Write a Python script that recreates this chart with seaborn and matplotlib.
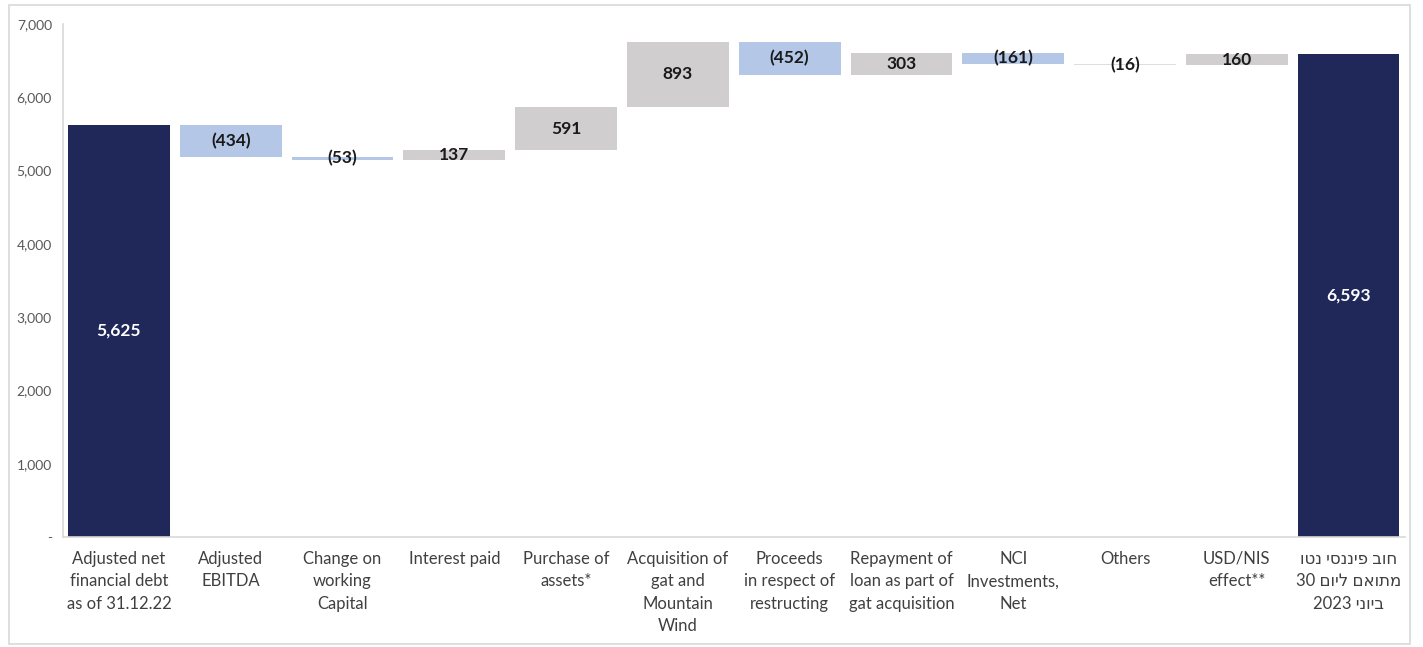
import matplotlib
matplotlib.use("Agg")
import matplotlib.pyplot as plt
import seaborn as sns
import numpy as np
import pandas as pd
from matplotlib.patches import Rectangle

# ---- data ----
categories = [
    "Adjusted net\nfinancial debt\nas of 31.12.22",
    "Adjusted\nEBITDA",
    "Change on\nworking\nCapital",
    "Interest paid",
    "Purchase of\nassets*",
    "Acquisition of\ngat and\nMountain\nWind",
    "Proceeds\nin respect of\nrestructing",
    "Repayment of\nloan as part of\ngat acquisition",
    "NCI\nInvestments,\nNet",
    "Others",
    "USD/NIS\neffect**",
    # Hebrew: "חוב פיננסי נטו / מתואם ליום 30 / ביוני 2023" (written in visual order)
    "וטנ יסנניפ בוח\n30 םויל םאותמ\n2023 ינויב",
]
start_value = 5625
changes = [-434, -53, 137, 591, 893, -452, 303, -161, -16, 160]
end_value = 6593
value_labels = ["5,625", "(434)", "(53)", "137", "591", "893", "(452)",
                "303", "(161)", "(16)", "160", "6,593"]
y_ticks = [0, 1000, 2000, 3000, 4000, 5000, 6000, 7000]
y_tick_labels = ["-", "1,000", "2,000", "3,000", "4,000", "5,000", "6,000", "7,000"]

# ---- derived waterfall geometry ----
bottoms, heights = [0], [start_value]
level = start_value
for c in changes:
    new = level + c
    bottoms.append(min(level, new))
    heights.append(abs(c))
    level = new
bottoms.append(0)
heights.append(end_value)

NAVY = "#1F2859"
BLUE = "#B4C7E7"
GREY = "#D0CECE"
PALE = "#DEDEDE"
colors = [NAVY]
for i, c in enumerate(changes):
    if i == 8:
        colors.append(PALE)
    else:
        colors.append(BLUE if c < 0 else GREY)
colors.append(NAVY)

df = pd.DataFrame({"cat": categories, "height": heights, "bottom": bottoms})

sns.set_style("white")
plt.rcParams["font.family"] = ["Lato", "DejaVu Sans"]

fig = plt.figure(figsize=(14.23, 6.47), dpi=100)
ax = fig.add_axes([0.0443, 0.170, 0.9427, 0.793])

sns.barplot(data=df, x="cat", y="height", order=categories, bottom=df["bottom"].values,
            color=GREY, width=0.91, ax=ax, linewidth=0, saturation=1)
for p, col in zip(ax.patches, colors):
    p.set_facecolor(col)
    p.set_edgecolor("none")

for i, (b, h) in enumerate(zip(bottoms, heights)):
    txtcol = "white" if colors[i] == NAVY else "#1A1A1A"
    ax.text(i, b + h / 2, value_labels[i], ha="center", va="center",
            fontsize=12.5, fontweight="bold", color=txtcol)

ax.set_ylim(0, 7000)
ax.set_xlim(-0.5, len(categories) - 0.5)
ax.set_yticks(y_ticks)
ax.set_yticklabels(y_tick_labels, fontsize=10, color="#595959")
ax.set_xticks(range(len(categories)))
ax.set_xticklabels(categories, fontsize=12, color="#404040", linespacing=1.5)
ax.tick_params(axis="both", length=0)
ax.tick_params(axis="x", pad=10)
ax.tick_params(axis="y", pad=8)
ax.set_xlabel("")
ax.set_ylabel("")
for s in ["top", "right"]:
    ax.spines[s].set_visible(False)
for s in ["left", "bottom"]:
    ax.spines[s].set_color("#D9D9D9")
    ax.spines[s].set_linewidth(1.2)

fig.patches.append(Rectangle((0.006, 0.004), 0.985, 0.989, transform=fig.transFigure,
                             fill=False, edgecolor="#D9D9D9", linewidth=1.2))

fig.savefig("out.png", dpi=100)
